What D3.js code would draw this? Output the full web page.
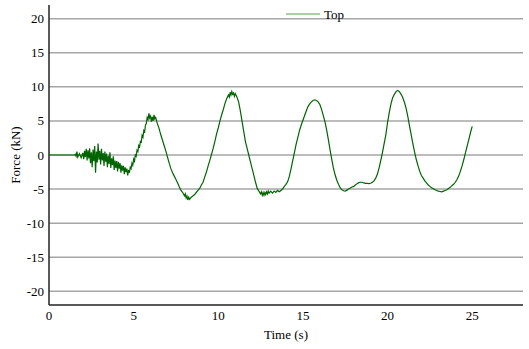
<!DOCTYPE html>
<html>
<head>
<meta charset="utf-8">
<script src="https://cdn.jsdelivr.net/npm/d3@7"></script>
<style>
  body { margin: 0; background: #fff; }
</style>
</head>
<body>
<svg width="529" height="349" font-family="'Liberation Serif', 'Times New Roman', Times, serif" font-size="13"></svg>
<script>
// time (s) and force (kN)
const time = [0, 1.5, 1.55, 1.6, 1.65, 1.7, 1.8, 1.9, 2.0, 2.05, 2.1, 2.15, 2.2, 2.25, 2.3, 2.35, 2.4, 2.45, 2.5, 2.55, 2.6, 2.65, 2.7, 2.75, 2.8, 2.85, 2.9, 2.95, 3.0, 3.05, 3.1, 3.15, 3.2, 3.25, 3.3, 3.35, 3.4, 3.45, 3.5, 3.55, 3.6, 3.65, 3.7, 3.75, 3.8, 3.85, 3.9, 3.95, 4.0, 4.05, 4.1, 4.15, 4.2, 4.25, 4.3, 4.35, 4.4, 4.45, 4.5, 4.55, 4.6, 4.65, 4.7, 4.75, 4.8, 4.85, 4.9, 4.95, 5.0, 5.05, 5.1, 5.15, 5.2, 5.25, 5.3, 5.35, 5.4, 5.45, 5.5, 5.55, 5.6, 5.65, 5.7, 5.75, 5.8, 5.85, 5.9, 5.95, 6.0, 6.05, 6.1, 6.15, 6.2, 6.25, 6.3, 6.4, 6.5, 6.6, 6.7, 6.8, 6.9, 7.0, 7.1, 7.2, 7.3, 7.4, 7.5, 7.6, 7.7, 7.8, 7.9, 8.0, 8.05, 8.1, 8.15, 8.2, 8.25, 8.3, 8.4, 8.5, 8.6, 8.7, 8.8, 8.9, 9.0, 9.1, 9.2, 9.3, 9.4, 9.5, 9.6, 9.7, 9.8, 9.9, 10.0, 10.1, 10.2, 10.3, 10.4, 10.5, 10.6, 10.65, 10.7, 10.75, 10.8, 10.85, 10.9, 10.95, 11.0, 11.1, 11.2, 11.3, 11.4, 11.5, 11.6, 11.7, 11.8, 11.9, 12.0, 12.1, 12.2, 12.3, 12.4, 12.5, 12.55, 12.6, 12.65, 12.7, 12.75, 12.8, 12.85, 12.9, 12.95, 13.0, 13.1, 13.2, 13.3, 13.4, 13.5, 13.6, 13.7, 13.8, 13.9, 14.0, 14.1, 14.2, 14.3, 14.4, 14.5, 14.6, 14.7, 14.8, 14.9, 15.0, 15.1, 15.2, 15.3, 15.4, 15.5, 15.6, 15.7, 15.8, 15.9, 16.0, 16.1, 16.2, 16.3, 16.4, 16.5, 16.6, 16.7, 16.8, 16.9, 17.0, 17.1, 17.2, 17.3, 17.4, 17.5, 17.6, 17.7, 17.8, 17.9, 18.0, 18.1, 18.2, 18.3, 18.4, 18.5, 18.6, 18.7, 18.8, 18.9, 19.0, 19.1, 19.2, 19.3, 19.4, 19.5, 19.6, 19.7, 19.8, 19.9, 20.0, 20.1, 20.2, 20.3, 20.4, 20.5, 20.6, 20.7, 20.8, 20.9, 21.0, 21.1, 21.2, 21.3, 21.4, 21.5, 21.6, 21.7, 21.8, 21.9, 22.0, 22.1, 22.2, 22.3, 22.4, 22.5, 22.6, 22.7, 22.8, 22.9, 23.0, 23.1, 23.2, 23.3, 23.4, 23.5, 23.6, 23.7, 23.8, 23.9, 24.0, 24.1, 24.2, 24.3, 24.4, 24.5, 24.6, 24.7, 24.8, 24.9, 25.0]
const force = [0, 0, 0.1, -0.2, 0.5, -0.3, 0.2, -0.4, 0.3, -0.6, 0.6, -0.3, 0.9, -0.8, 0.7, -0.5, 1.0, -1.2, 0.4, -1.8, 0.8, -0.9, 1.3, -2.6, 0.5, -1.1, 1.7, -0.7, 0.6, -1.4, 0.9, -0.8, 0.3, -1.6, 0.5, -1.0, 0.2, -1.8, -0.1, -1.3, 0.4, -1.9, -0.5, -1.5, -0.2, -2.2, -0.8, -1.9, -0.9, -2.4, -1.0, -2.0, -1.2, -2.6, -1.5, -2.3, -1.6, -2.8, -1.8, -2.5, -2.0, -3.0, -2.2, -2.6, -1.8, -2.0, -1.2, -1.5, -0.6, -0.9, 0.0, -0.2, 0.7, 0.5, 1.4, 1.2, 2.0, 1.9, 2.9, 2.6, 3.6, 3.4, 4.4, 4.6, 5.5, 5.2, 6.1, 5.4, 5.7, 4.9, 5.6, 5.0, 5.9, 5.3, 5.5, 4.6, 3.9, 3.0, 2.2, 1.4, 0.6, -0.3, -1.2, -2.0, -2.6, -3.1, -3.6, -4.1, -4.7, -5.2, -5.5, -6.0, -5.7, -6.3, -6.0, -6.6, -6.2, -6.5, -6.2, -6.0, -5.8, -5.5, -5.2, -4.9, -4.4, -4.0, -3.2, -2.5, -1.6, -0.8, 0.1, 1.0, 2.0, 3.1, 4.0, 5.0, 5.9, 6.7, 7.6, 8.3, 8.8, 8.5, 9.2, 8.8, 9.3, 8.9, 9.1, 8.6, 9.0, 8.5, 7.8, 6.5, 5.0, 3.5, 2.0, 1.0, 0.0, -1.0, -2.0, -3.0, -4.0, -4.9, -5.3, -5.7, -5.4, -5.9, -5.5, -5.9, -5.5, -5.8, -5.4, -5.7, -5.3, -5.6, -5.3, -5.6, -5.3, -5.5, -5.2, -5.4, -5.2, -5.0, -4.6, -4.3, -3.9, -3.1, -2.0, -0.8, 0.4, 1.6, 2.6, 3.6, 4.4, 5.1, 5.8, 6.5, 7.1, 7.5, 7.8, 8.0, 8.1, 8.0, 7.8, 7.4, 6.7, 5.8, 4.9, 3.7, 2.3, 0.8, -0.6, -1.9, -2.9, -3.7, -4.3, -4.8, -5.1, -5.25, -5.3, -5.15, -5.0, -4.85, -4.7, -4.6, -4.4, -4.2, -4.05, -4.0, -4.0, -4.1, -4.15, -4.15, -4.2, -4.15, -4.0, -3.8, -3.4, -2.8, -1.9, -0.8, 0.4, 1.7, 3.0, 4.8, 6.2, 7.5, 8.4, 8.9, 9.3, 9.45, 9.3, 8.9, 8.4, 7.7, 6.8, 5.6, 4.2, 2.9, 1.6, 0.4, -0.7, -1.6, -2.4, -3.0, -3.4, -3.8, -4.1, -4.4, -4.6, -4.8, -4.95, -5.1, -5.2, -5.3, -5.35, -5.4, -5.3, -5.2, -5.1, -4.9, -4.75, -4.5, -4.3, -4.0, -3.6, -3.1, -2.4, -1.6, -0.7, 0.3, 1.3, 2.3, 3.3, 4.2]

const xTicks = [0, 5, 10, 15, 20, 25]
const yTicks = [-20, -15, -10, -5, 0, 5, 10, 15, 20]
const seriesName = "Top"

var svg = d3.select("svg")

var x = d3.scaleLinear().domain([0, 28]).range([49, 523])
var y = d3.scaleLinear().domain([-22, 22]).range([305, 5])

// gridlines
svg.append("g")
    .selectAll("line")
    .data(yTicks)
    .enter().append("line")
      .attr("x1", x(0))
      .attr("x2", x(28))
      .attr("y1", function(d){ return y(d) })
      .attr("y2", function(d){ return y(d) })
      .attr("stroke", "#a6a6a6")
      .attr("stroke-width", 1.5)

// y labels
svg.append("g")
    .selectAll("text")
    .data(yTicks)
    .enter().append("text")
      .attr("x", 44)
      .attr("y", function(d){ return y(d) + 4.5 })
      .attr("text-anchor", "end")
      .text(function(d){ return d })

// x labels
svg.append("g")
    .selectAll("text")
    .data(xTicks)
    .enter().append("text")
      .attr("x", function(d){ return x(d) })
      .attr("y", 320)
      .attr("text-anchor", "middle")
      .text(function(d){ return d })

// axes lines
svg.append("line")
    .attr("x1", x(0)).attr("x2", x(0))
    .attr("y1", y(22)).attr("y2", y(-22))
    .attr("stroke", "#222").attr("stroke-width", 1.5)
svg.append("line")
    .attr("x1", x(0)).attr("x2", x(28))
    .attr("y1", y(-22)).attr("y2", y(-22))
    .attr("stroke", "#222").attr("stroke-width", 1.5)

// the series
var line = d3.line()
    .x(function(d, i){ return x(time[i]) })
    .y(function(d){ return y(d) })

svg.append("path")
    .attr("d", line(force))
    .attr("fill", "none")
    .attr("stroke", "#006400")
    .attr("stroke-width", 1.2)

// legend
svg.append("line")
    .attr("x1", 286).attr("x2", 320)
    .attr("y1", 14).attr("y2", 14)
    .attr("stroke", "#5a9e5a").attr("stroke-width", 1.2)
svg.append("text")
    .attr("x", 324)
    .attr("y", 19)
    .text(seriesName)

// axis titles
svg.append("text")
    .attr("x", 286)
    .attr("y", 339)
    .attr("text-anchor", "middle")
    .text("Time (s)")
svg.append("text")
    .attr("transform", "translate(20,155) rotate(-90)")
    .attr("text-anchor", "middle")
    .text("Force (kN)")
</script>
</body>
</html>
